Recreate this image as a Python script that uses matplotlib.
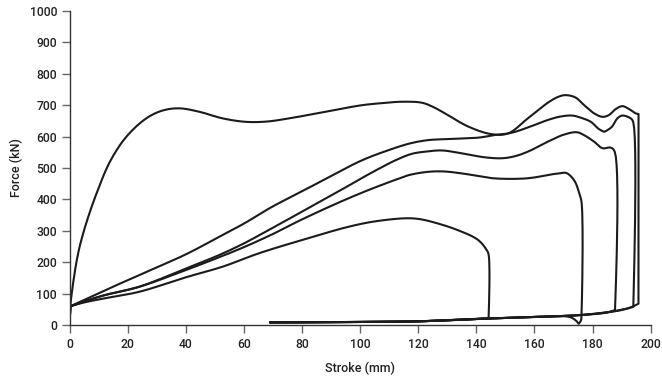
import matplotlib
matplotlib.use("Agg")
import matplotlib.pyplot as plt
import numpy as np

# ---- data (stroke mm, force kN) ----
a_x = [0, 0.3, 1.5, 3, 4.7, 7, 9.3, 13.9, 19.6, 26.4, 32, 37.8, 44.7, 52.7, 60.7, 68, 75.5, 84, 92.6,
       100.6, 108, 114.3, 121.2, 125, 129.2, 137.2, 145.1, 150.9, 157.7, 164.6, 168, 170.5, 174, 177.1,
       180.5, 183.4, 185.5, 188, 190.2, 192.5, 194.8, 195.8, 195.8, 193, 190, 186, 176, 164, 154, 144,
       130, 120, 100, 85, 69]
a_y = [0, 62, 150, 230, 292, 360, 419, 520, 600, 658, 683, 690, 679, 658, 647, 648, 658, 672, 687,
       700, 707, 711, 708, 695, 674, 632, 608, 610, 658, 708, 726, 732, 725, 700,
       674, 663, 668, 688, 697, 688, 674, 672, 68, 56, 49, 42, 32, 27, 24, 21,
       16, 12, 10, 9, 8]

b_x = [0, 0.3, 5, 12, 24, 40, 52.7, 60, 69.8, 79, 87, 96, 102, 109.8, 117, 123.5, 130, 134.9, 141,
       146.3, 152, 158, 164.6, 169, 173, 176, 179.4, 182, 184, 186.5, 188.5, 190.2, 193.1, 194, 194,
       190, 186, 176, 154, 144, 120, 69]
b_y = [0, 60, 80, 110, 159, 225, 287, 323, 377, 421, 460, 504, 530, 557, 578, 589, 592, 594, 597,
       605, 612, 630, 653, 664, 667, 660, 647, 625, 615, 630, 658, 667, 658, 645, 58,
       48, 42, 32, 24, 21, 12, 9]

c_x = [0, 0.3, 5, 12, 24, 40, 51.5, 60, 70, 79, 86, 93.8, 100, 106.3, 112, 117.7, 122.3, 128, 133,
       138.3, 143, 148.6, 153, 157.7, 164.6, 170, 174.5, 177, 180.5, 183.4, 186.2, 187.6, 187.7,
       185, 176, 154, 144, 120, 69]
c_y = [0, 60, 75, 95, 122, 180, 223, 260, 310, 356, 392, 432, 465, 497, 524, 545, 552, 556, 550,
       541, 534, 531, 537, 552, 584, 606, 614, 605, 584, 563, 565, 552, 48,
       40, 32, 24, 21, 12, 9]

d_x = [0, 0.3, 5, 12, 24, 40, 51.5, 60, 70, 79, 92.6, 102.9, 112, 117, 123.5, 129, 134.9, 141, 146.3,
       155.4, 160, 164.6, 168.6, 171, 173.7, 175.4, 176.2, 176.2, 176, 175.2, 174.3, 172, 164, 154,
       144, 120, 69]
d_y = [0, 60, 75, 95, 122, 175, 216, 248, 290, 332, 390, 430, 462, 478, 488, 489, 483, 474, 467,
       466, 470, 478, 483, 484, 460, 420, 390, 40, 15, 4, 14, 26, 27, 24,
       21, 12, 9]

e_x = [0, 0.3, 5, 12, 24, 40, 52.7, 65, 79, 96, 105, 115.5, 120, 124.6, 133.7, 140.6, 143.4, 144.2,
       144.2, 140, 130, 120, 100, 69]
e_y = [0, 60, 72, 85, 106, 152, 186, 228, 268, 313, 330, 340, 338, 329, 302, 271, 241, 225,
       22, 19, 15, 12, 10, 8]

x_ticks = [0, 20, 40, 60, 80, 100, 120, 140, 160, 180, 200]
y_ticks = [0, 100, 200, 300, 400, 500, 600, 700, 800, 900, 1000]
x_label = "Stroke (mm)"
y_label = "Force (kN)"

SX = 585 / 200.0   # px per mm (for drawing geometry only)
SY = 314 / 1000.0  # px per kN


def catmull(p, n=14):
    """Centripetal Catmull-Rom through points p (screen-like units)."""
    if len(p) < 3:
        return p
    q = np.vstack([p[0], p, p[-1]])
    out = []
    for i in range(1, len(q) - 2):
        p0, p1, p2, p3 = q[i - 1], q[i], q[i + 1], q[i + 2]
        def tj(ti, a, b):
            return ti + max(np.hypot(*(b - a)) ** 0.5, 1e-6)
        t0 = 0.0
        t1 = tj(t0, p0, p1)
        t2 = tj(t1, p1, p2)
        t3 = tj(t2, p2, p3)
        t = np.linspace(t1, t2, n, endpoint=False)[:, None]
        a1 = (t1 - t) / (t1 - t0) * p0 + (t - t0) / (t1 - t0) * p1
        a2 = (t2 - t) / (t2 - t1) * p1 + (t - t1) / (t2 - t1) * p2
        a3 = (t3 - t) / (t3 - t2) * p2 + (t - t2) / (t3 - t2) * p3
        b1 = (t2 - t) / (t2 - t0) * a1 + (t - t0) / (t2 - t0) * a2
        b2 = (t3 - t) / (t3 - t1) * a2 + (t - t1) / (t3 - t1) * a3
        out.append((t2 - t) / (t2 - t1) * b1 + (t - t1) / (t2 - t1) * b2)
    out.append(q[-2][None, :])
    return np.vstack(out)


def smooth_path(xs, ys, corner_deg=55):
    p = np.column_stack([np.asarray(xs, float) * SX, np.asarray(ys, float) * SY])
    # split at sharp corners so vertical drops stay straight
    cuts = [0]
    for i in range(1, len(p) - 1):
        v1 = p[i] - p[i - 1]
        v2 = p[i + 1] - p[i]
        cosang = np.dot(v1, v2) / (np.linalg.norm(v1) * np.linalg.norm(v2) + 1e-9)
        if np.degrees(np.arccos(np.clip(cosang, -1, 1))) > corner_deg:
            cuts.append(i)
    cuts.append(len(p) - 1)
    pieces = []
    for a, b in zip(cuts[:-1], cuts[1:]):
        seg = catmull(p[a:b + 1])
        pieces.append(seg if not pieces else seg[1:])
    out = np.vstack(pieces)
    return out[:, 0] / SX, out[:, 1] / SY


plt.rcParams['font.family'] = ['Roboto', 'DejaVu Sans']

fig = plt.figure(figsize=(6.62, 3.78), dpi=100)
ax = fig.add_axes([0.105, 0.140, 0.878, 0.831])

line_color = "#1c1a1b"
for xs, ys in [(a_x, a_y), (b_x, b_y), (c_x, c_y), (d_x, d_y), (e_x, e_y)]:
    sx_, sy_ = smooth_path(xs, ys)
    ax.plot(sx_, sy_, color=line_color, lw=1.5, solid_joinstyle="round", solid_capstyle="round")

ax.set_xlim(0, 200)
ax.set_ylim(0, 1000)
ax.set_xticks(x_ticks)
ax.set_yticks(y_ticks)
ax.set_xlabel(x_label, fontsize=9, color="#222222", labelpad=8, fontweight="medium")
ax.set_ylabel(y_label, fontsize=9, color="#222222", labelpad=5, fontweight="medium")

for s in ["top", "right"]:
    ax.spines[s].set_visible(False)
for s in ["left", "bottom"]:
    ax.spines[s].set_color("#333333")
    ax.spines[s].set_linewidth(1.0)

ax.tick_params(axis="both", direction="out", length=6, width=1.0, color="#666666",
               labelsize=8.7, labelcolor="#222222", pad=3)
for lab in ax.get_xticklabels() + ax.get_yticklabels():
    lab.set_fontweight("medium")

fig.savefig("out.png", dpi=100)
